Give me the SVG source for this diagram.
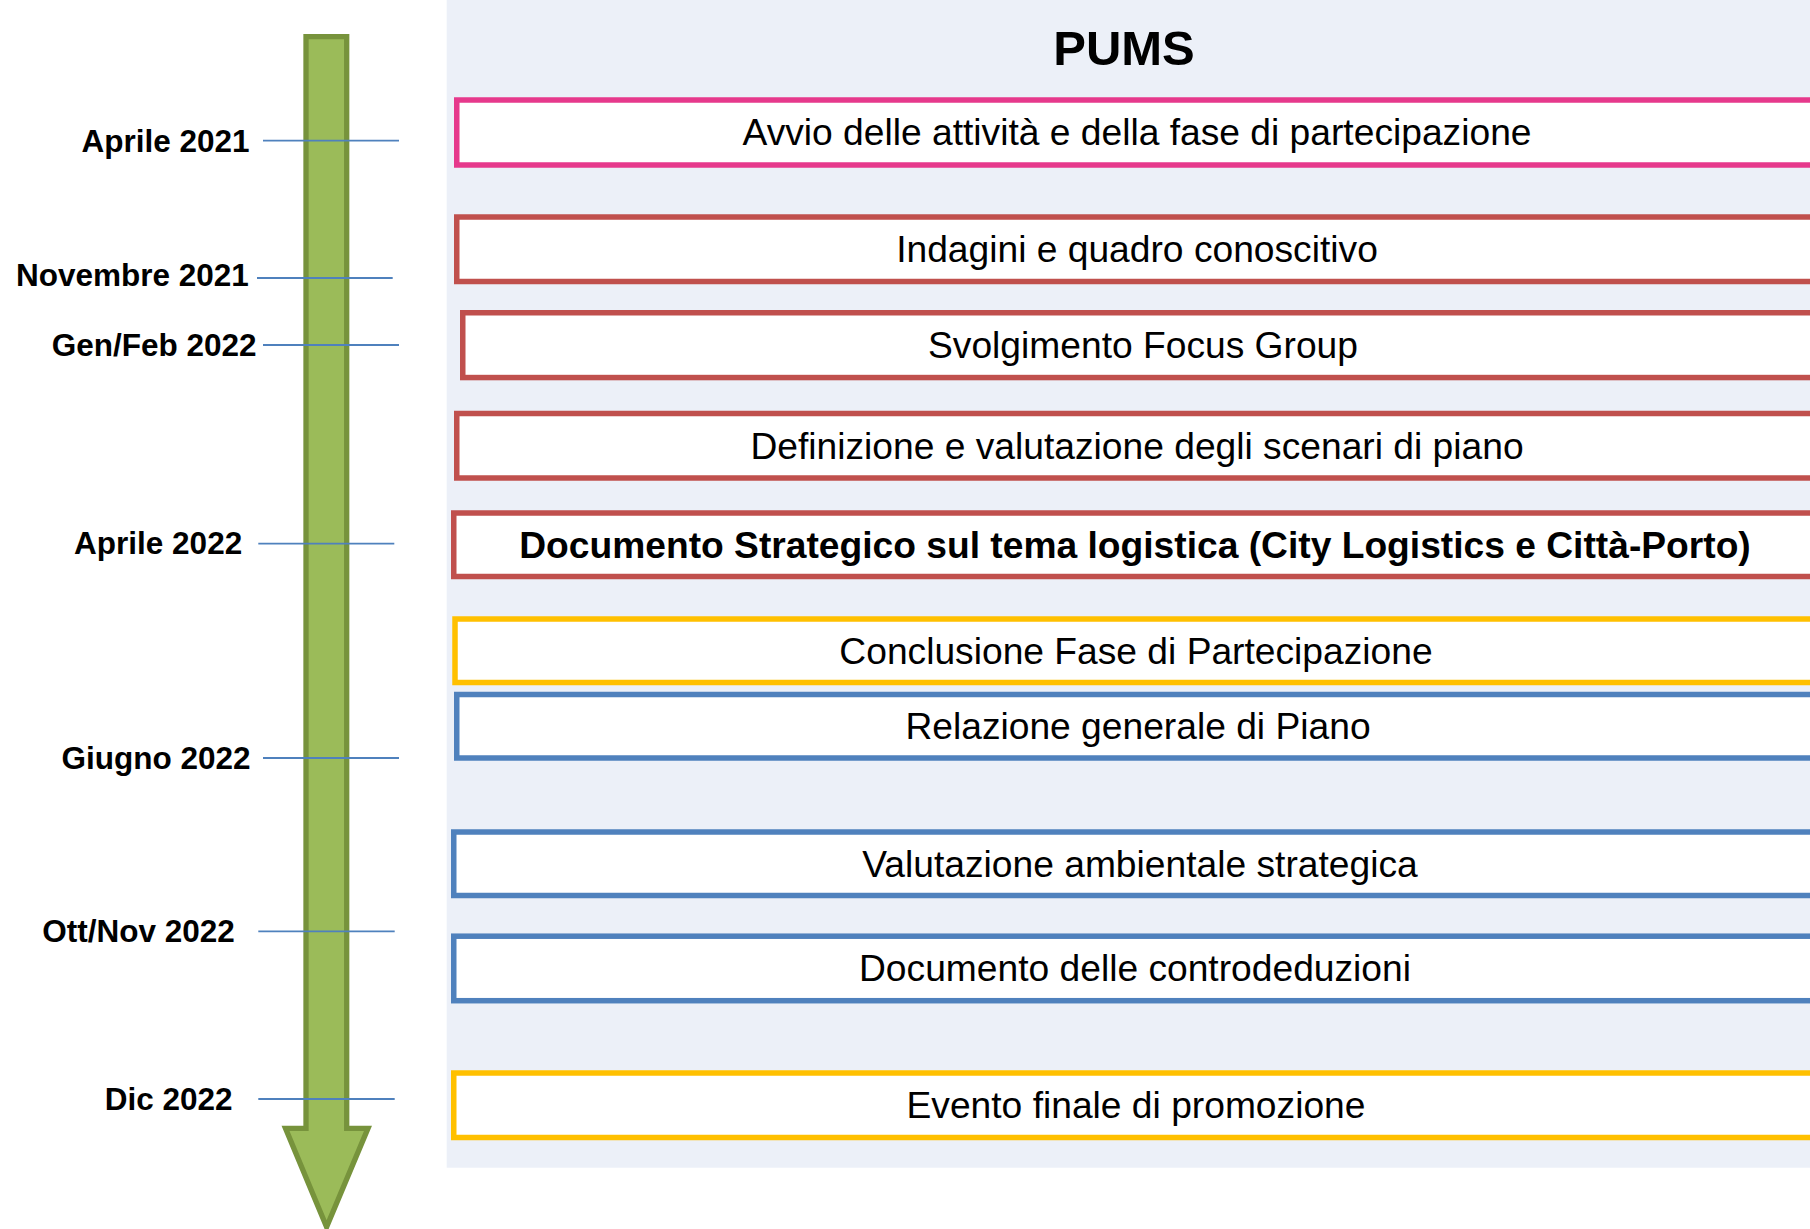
<svg xmlns="http://www.w3.org/2000/svg" width="1810" height="1229" viewBox="0 0 1810 1229">
<style>
.lbl{font-family:"Liberation Sans",Arial,sans-serif;font-weight:bold;font-size:31.5px;fill:#000;text-anchor:end}
.tick{stroke:#4F81BD;stroke-width:1.8;fill:none}
.box{fill:#fff;stroke-width:5.5}
.bt{font-family:"Liberation Sans",Arial,sans-serif;font-size:37.2px;fill:#000;text-anchor:middle}
.pink{stroke:#E6398C}
.red{stroke:#C0504D}
.yel{stroke:#FFC000}
.blu{stroke:#4F81BD}
</style>
<rect width="1810" height="1229" fill="#fff"/>
<rect x="446.7" y="0" width="1363.3" height="1167.7" fill="#ECF0F8"/>
<text x="1124" y="65.3" font-family="Liberation Sans, Arial, sans-serif" font-weight="bold" font-size="49" text-anchor="middle">PUMS</text>

<g id="timeline-arrow">
<path d="M306,36.7 L346.7,36.7 L346.7,1128.3 L368,1128.3 L326.6,1227 L285.5,1128.3 L306,1128.3 Z" fill="#9BBB59" stroke="#77933C" stroke-width="5.3" stroke-miterlimit="4"/>
</g>

<g id="connectors">
<line class="tick" x1="263" y1="140.7" x2="399" y2="140.7"/>
<line class="tick" x1="257" y1="278" x2="392.7" y2="278"/>
<line class="tick" x1="263" y1="345" x2="399" y2="345"/>
<line class="tick" x1="258.3" y1="543.7" x2="394.3" y2="543.7"/>
<line class="tick" x1="263" y1="758" x2="399" y2="758"/>
<line class="tick" x1="258.3" y1="931.3" x2="394.7" y2="931.3"/>
<line class="tick" x1="258.3" y1="1099" x2="394.7" y2="1099"/>
</g>

<g id="labels">
<text class="lbl" x="249.5" y="152.3">Aprile 2021</text>
<text class="lbl" x="248.8" y="285.7">Novembre 2021</text>
<text class="lbl" x="256.5" y="356.3">Gen/Feb 2022</text>
<text class="lbl" x="242.2" y="554.3">Aprile 2022</text>
<text class="lbl" x="250.5" y="769.3">Giugno 2022</text>
<text class="lbl" x="234.8" y="942.3">Ott/Nov 2022</text>
<text class="lbl" x="232.5" y="1110">Dic 2022</text>
</g>

<g id="box1"><rect class="box pink" x="456.75" y="100" width="1400" height="65"/><text class="bt" x="1137" y="145.3">Avvio delle attività e della fase di partecipazione</text></g>
<g id="box2"><rect class="box red" x="456.75" y="217" width="1400" height="64.5"/><text class="bt" x="1137" y="262">Indagini e quadro conoscitivo</text></g>
<g id="box3"><rect class="box red" x="462.75" y="312.75" width="1400" height="64.8"/><text class="bt" x="1143" y="358">Svolgimento Focus Group</text></g>
<g id="box4"><rect class="box red" x="456.75" y="413.5" width="1400" height="64.5"/><text class="bt" x="1137" y="458.5">Definizione e valutazione degli scenari di piano</text></g>
<g id="box5"><rect class="box red" x="453.75" y="513" width="1400" height="63.5"/><text class="bt" x="1135" y="557.5" font-weight="bold">Documento Strategico sul tema logistica (City Logistics e Città-Porto)</text></g>
<g id="box6"><rect class="box yel" x="455" y="619" width="1400" height="63.5"/><text class="bt" x="1136" y="663.5">Conclusione Fase di Partecipazione</text></g>
<g id="box7"><rect class="box blu" x="456.75" y="694.5" width="1400" height="63.5"/><text class="bt" x="1138" y="739">Relazione generale di Piano</text></g>
<g id="box8"><rect class="box blu" x="453.75" y="832" width="1400" height="63.5"/><text class="bt" x="1140" y="876.5">Valutazione ambientale strategica</text></g>
<g id="box9"><rect class="box blu" x="453.75" y="936.2" width="1400" height="64.5"/><text class="bt" x="1135" y="981.3">Documento delle controdeduzioni</text></g>
<g id="box10"><rect class="box yel" x="453.75" y="1073" width="1400" height="64.5"/><text class="bt" x="1136" y="1118">Evento finale di promozione</text></g>
</svg>
